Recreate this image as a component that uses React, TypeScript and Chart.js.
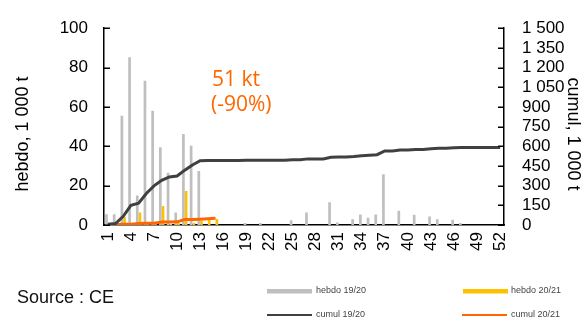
import { useEffect, useRef } from 'react';
import { Chart, registerables } from 'chart.js';

Chart.register(...registerables);

// ---- data ----
const weeks = ['1','2','3','4','5','6','7','8','9','10','11','12','13','14','15','16','17','18','19','20','21','22','23','24','25','26','27','28','29','30','31','32','33','34','35','36','37','38','39','40','41','42','43','44','45','46','47','48','49','50','51','52'];

const hebdo1920 = [5.5, 5.5, 55.5, 85.3, 15, 73.3, 58, 39.5, 26.6, 6.4, 46.2, 40.3, 27.4, 0, 0, 0, 0, 0, 1, 0, 1, 0, 0, 0, 2.4, 0, 6.4, 0, 0, 11.6, 1.3, 0, 2.9, 5.3, 3.7, 5.3, 25.8, 0, 7.2, 0, 5.2, 0, 4.3, 2.9, 0, 2.7, 1, 0, 0, 0, 0, 0];

const hebdo2021 = [0, 1, 4, 0.5, 6.4, 0.5, 0.5, 9.7, 0.5, 1, 17.3, 1, 2, 3, 3];

const cumul1920 = [5, 11, 66, 150, 167, 240, 298, 340, 366, 373, 418, 458, 490, 492, 492, 492, 492, 492, 493, 493, 494, 494, 494, 494, 497, 497, 504, 504, 504, 517, 519, 519, 522, 527, 531, 536, 564, 564, 571, 571, 576, 576, 581, 585, 585, 588, 590, 590, 590, 590, 590, 590];

const cumul2021 = [0, 1, 5, 5.5, 12, 12.5, 13, 22.5, 23, 24, 41, 42, 44, 47, 51];

const xTickLabels = ['1','','','4','','','7','','','10','','','13','','','16','','','19','','','22','','','25','','','28','','','31','','','34','','','37','','','40','','','43','','','46','','','49','','','52'];
const leftTickLabels = ['0', '20', '40', '60', '80', '100'];
const rightTickLabels = ['0', '150', '300', '450', '600', '750', '900', '1 050', '1 200', '1 350', '1 500'];

const leftTitle = 'hebdo, 1 000 t';
const rightTitle = 'cumul, 1 000 t';
const sourceText = 'Source : CE';
const noteLines = ['51 kt', '(-90%)'];
const legendItems = [
  { label: 'hebdo 19/20', color: '#bfbfbf', kind: 'bar' },
  { label: 'hebdo 20/21', color: '#ffc000', kind: 'bar' },
  { label: 'cumul 19/20', color: '#404040', kind: 'line' },
  { label: 'cumul 20/21', color: '#ff6600', kind: 'line' },
];

const FONT = "'Liberation Sans', Arial, sans-serif";

const overlay = {
  id: 'overlay',
  afterDraw(chart: any) {
    const { ctx, chartArea: a, scales } = chart;
    ctx.save();
    // inward tick marks
    ctx.strokeStyle = '#000';
    ctx.lineWidth = 1.5;
    scales.y.ticks.forEach((t: any) => {
      const py = Math.round(scales.y.getPixelForValue(t.value)) + 0.25;
      ctx.beginPath();
      ctx.moveTo(a.left, py);
      ctx.lineTo(a.left + 6, py);
      ctx.stroke();
    });
    scales.y1.ticks.forEach((t: any) => {
      const py = Math.round(scales.y1.getPixelForValue(t.value)) + 0.25;
      ctx.beginPath();
      ctx.moveTo(a.right - 6, py);
      ctx.lineTo(a.right, py);
      ctx.stroke();
    });

    // axis titles
    ctx.fillStyle = '#000';
    ctx.font = `18px ${FONT}`;
    ctx.textAlign = 'center';
    ctx.textBaseline = 'middle';
    ctx.save();
    ctx.translate(23, 134);
    ctx.rotate(-Math.PI / 2);
    ctx.fillText(leftTitle, 0, 0);
    ctx.restore();
    ctx.save();
    ctx.translate(573, 134);
    ctx.rotate(Math.PI / 2);
    ctx.fillText(rightTitle, 0, 0);
    ctx.restore();

    // source
    ctx.textAlign = 'left';
    ctx.font = `18px ${FONT}`;
    ctx.fillStyle = '#111';
    ctx.fillText(sourceText, 17, 298);

    // annotation
    ctx.fillStyle = '#ff6600';
    ctx.font = `21px 'Open Sans', ${FONT}`;
    ctx.textBaseline = 'alphabetic';
    ctx.fillText(noteLines[0], 212, 86);
    ctx.fillText(noteLines[1], 211, 111);

    // legend
    const pos = [
      { x: 267, y: 291, tx: 316 },
      { x: 463, y: 291, tx: 511 },
      { x: 267, y: 315, tx: 316 },
      { x: 462, y: 315, tx: 511 },
    ];
    ctx.font = `9px ${FONT}`;
    ctx.textBaseline = 'middle';
    legendItems.forEach((it, i) => {
      const p = pos[i];
      ctx.fillStyle = it.color;
      if (it.kind === 'bar') {
        ctx.fillRect(p.x, p.y - 2, 45, 4.5);
      } else {
        ctx.fillRect(p.x, p.y - 1, 45, 2);
      }
      ctx.fillStyle = '#444';
      ctx.fillText(it.label, p.tx, p.y);
    });
    ctx.restore();
  },
};

export default function App() {
  const ref = useRef<HTMLCanvasElement>(null);
  useEffect(() => {
    const chart = new Chart(ref.current as HTMLCanvasElement, {
      data: {
        labels: weeks,
        datasets: [
          {
            type: 'line',
            label: 'cumul 19/20',
            data: cumul1920,
            yAxisID: 'y1',
            borderColor: '#404040',
            borderWidth: 3,
            pointRadius: 0,
            tension: 0,
            order: 1,
          },
          {
            type: 'line',
            label: 'cumul 20/21',
            data: cumul2021,
            yAxisID: 'y1',
            borderColor: '#ff6600',
            borderWidth: 3,
            pointRadius: 0,
            tension: 0,
            order: 1,
          },
          {
            type: 'bar',
            label: 'hebdo 19/20',
            data: hebdo1920,
            yAxisID: 'y',
            backgroundColor: '#bfbfbf',
            categoryPercentage: 0.7,
            barPercentage: 1,
            order: 2,
          },
          {
            type: 'bar',
            label: 'hebdo 20/21',
            data: hebdo2021,
            yAxisID: 'y',
            backgroundColor: '#ffc000',
            categoryPercentage: 0.7,
            barPercentage: 1,
            order: 2,
          },
        ],
      } as any,
      options: {
        animation: false,
        responsive: false,
        maintainAspectRatio: false,
        layout: { padding: { top: 18, left: 0, right: 0, bottom: 0 } },
        plugins: { legend: { display: false }, tooltip: { enabled: false } },
        scales: {
          x: {
            type: 'category',
            offset: true,
            grid: { display: false, drawTicks: false },
            border: { display: true, color: '#000', width: 1.5 },
            ticks: {
              autoSkip: false,
              minRotation: 90,
              maxRotation: 90,
              padding: 7,
              color: '#000',
              font: { family: FONT, size: 17 },
              callback: (_v: any, i: number) => xTickLabels[i],
            },
            afterFit: (s: any) => { s.height = 94; },
          },
          y: {
            position: 'left',
            min: 0,
            max: 100,
            grid: { display: false, drawTicks: false },
            border: { display: true, color: '#000', width: 1.5 },
            ticks: {
              stepSize: 20,
              autoSkip: false,
              padding: 16,
              color: '#000',
              font: { family: FONT, size: 17 },
              callback: (_v: any, i: number) => leftTickLabels[i],
            },
            afterFit: (s: any) => { s.width = 104; },
          },
          y1: {
            position: 'right',
            min: 0,
            max: 1500,
            grid: { display: false, drawTicks: false },
            border: { display: true, color: '#000', width: 1.5 },
            ticks: {
              stepSize: 150,
              autoSkip: false,
              padding: 18,
              color: '#000',
              font: { family: FONT, size: 17 },
              callback: (_v: any, i: number) => rightTickLabels[i],
            },
            afterFit: (s: any) => { s.width = 80; },
          },
        },
      } as any,
      plugins: [overlay],
    });
    return () => chart.destroy();
  }, []);

  return (
    <div style={{ position: 'fixed', left: 0, top: 0, width: 584, height: 319, background: '#fff' }}>
      <canvas ref={ref} width={584} height={319} style={{ display: 'block', width: 584, height: 319 }} />
    </div>
  );
}
